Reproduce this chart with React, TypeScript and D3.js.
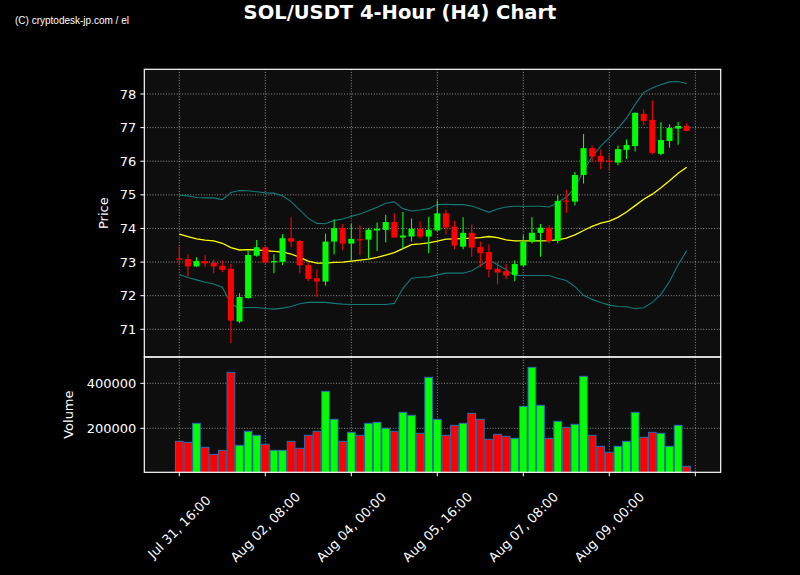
import React from "react";
import * as d3 from "d3";

const W = 800;
const H = 575;

// ---- data (4-hour candles, starting Jul 31 16:00) ----
const openP = [73.11, 73.09, 72.87, 73.03, 72.98, 72.89, 72.80, 71.23, 71.93, 73.19, 73.44, 72.99, 73.01, 73.71, 73.63, 72.91, 72.52, 72.42, 73.61, 74.01, 73.55, 73.68, 73.67, 73.94, 73.96, 74.19, 73.73, 73.76, 73.99, 73.76, 73.94, 74.45, 74.05, 73.46, 73.87, 73.45, 73.30, 72.80, 72.73, 72.62, 72.90, 73.61, 73.87, 74.02, 73.63, 74.83, 74.80, 75.59, 76.39, 76.16, 76.02, 75.96, 76.34, 76.45, 77.41, 77.23, 76.22, 76.60, 76.97, 77.05];
const highP = [73.46, 73.23, 73.14, 73.20, 73.08, 73.05, 72.94, 72.07, 73.34, 73.66, 73.51, 73.23, 73.83, 74.33, 73.66, 72.99, 72.79, 73.84, 74.27, 74.13, 74.13, 74.10, 74.01, 74.18, 74.41, 74.45, 74.49, 74.30, 74.21, 74.35, 74.83, 74.56, 74.23, 74.33, 74.12, 73.61, 73.53, 72.99, 72.94, 73.05, 73.80, 74.33, 74.13, 74.10, 74.99, 75.15, 75.69, 76.81, 76.47, 76.35, 76.19, 76.47, 76.65, 77.45, 77.54, 77.81, 77.16, 77.10, 77.17, 77.13];
const lowP = [72.92, 72.57, 72.85, 72.85, 72.67, 72.70, 70.59, 71.18, 71.91, 73.16, 72.95, 72.67, 72.91, 73.44, 72.67, 72.44, 71.97, 72.30, 73.23, 73.35, 73.04, 73.20, 73.11, 73.33, 73.59, 73.73, 73.40, 73.61, 73.71, 73.26, 73.91, 73.83, 73.38, 73.38, 73.16, 72.85, 72.55, 72.34, 72.49, 72.43, 72.87, 73.56, 73.16, 73.56, 73.56, 74.47, 74.68, 75.34, 75.97, 75.76, 75.72, 75.88, 76.07, 76.29, 77.07, 76.20, 76.18, 76.40, 76.49, 76.90];
const closeP = [73.08, 72.87, 73.03, 72.96, 72.87, 72.77, 71.26, 71.96, 73.21, 73.44, 72.99, 73.03, 73.71, 73.61, 72.90, 72.50, 72.42, 73.61, 74.01, 73.55, 73.69, 73.67, 73.96, 73.99, 74.19, 73.73, 73.79, 73.99, 73.76, 73.96, 74.45, 74.03, 73.49, 73.87, 73.43, 73.27, 72.78, 72.69, 72.60, 72.94, 73.61, 73.87, 74.02, 73.63, 74.82, 74.80, 75.59, 76.39, 76.14, 75.99, 75.98, 76.36, 76.48, 77.44, 77.20, 76.25, 76.63, 76.99, 77.05, 76.90];
const volume = [142200, 137800, 222200, 115600, 84400, 102200, 448900, 124400, 186700, 168900, 128900, 102200, 102200, 142200, 111100, 168900, 186700, 364400, 240000, 142200, 182200, 168900, 222200, 226700, 200000, 186700, 271100, 257800, 177800, 426700, 240000, 168900, 213300, 222200, 266700, 240000, 151100, 173300, 164400, 155600, 297800, 471100, 302200, 155600, 231100, 204400, 217800, 431100, 168900, 120000, 93300, 120000, 142200, 271100, 160000, 182200, 177800, 120000, 213300, 31100];
const ma20 = [73.83, 73.76, 73.69, 73.65, 73.63, 73.56, 73.43, 73.36, 73.37, 73.36, 73.34, 73.32, 73.30, 73.24, 73.14, 73.03, 72.97, 72.97, 72.99, 73.00, 73.03, 73.06, 73.09, 73.14, 73.21, 73.28, 73.40, 73.52, 73.54, 73.57, 73.62, 73.68, 73.69, 73.70, 73.71, 73.73, 73.76, 73.73, 73.66, 73.63, 73.63, 73.63, 73.63, 73.64, 73.66, 73.71, 73.81, 73.94, 74.06, 74.16, 74.22, 74.33, 74.49, 74.68, 74.87, 75.02, 75.21, 75.42, 75.64, 75.82];
const bbUpper = [74.99, 74.97, 74.92, 74.91, 74.91, 74.86, 75.07, 75.13, 75.12, 75.09, 75.06, 75.05, 74.97, 74.80, 74.55, 74.30, 74.15, 74.14, 74.24, 74.28, 74.36, 74.43, 74.53, 74.63, 74.75, 74.79, 74.59, 74.52, 74.55, 74.59, 74.71, 74.72, 74.71, 74.71, 74.67, 74.58, 74.48, 74.58, 74.64, 74.66, 74.66, 74.66, 74.66, 74.64, 74.78, 74.93, 75.21, 75.71, 76.14, 76.45, 76.70, 76.98, 77.28, 77.69, 78.05, 78.18, 78.28, 78.36, 78.37, 78.31];
const bbLower = [72.63, 72.54, 72.47, 72.40, 72.35, 72.25, 71.76, 71.63, 71.65, 71.65, 71.62, 71.60, 71.63, 71.68, 71.76, 71.80, 71.80, 71.80, 71.77, 71.75, 71.74, 71.74, 71.74, 71.74, 71.74, 71.77, 72.22, 72.52, 72.55, 72.56, 72.62, 72.67, 72.67, 72.67, 72.74, 72.90, 73.06, 72.92, 72.77, 72.60, 72.60, 72.60, 72.60, 72.60, 72.52, 72.45, 72.27, 72.01, 71.89, 71.80, 71.72, 71.68, 71.67, 71.61, 71.64, 71.80, 72.04, 72.42, 72.92, 73.34];

const xTickIndex = [0, 10, 20, 30, 40, 50, 60];
const xTickLabels = ["Jul 31, 16:00", "Aug 02, 08:00", "Aug 04, 00:00", "Aug 05, 16:00", "Aug 07, 08:00", "Aug 09, 00:00", ""];
const priceTicks = [71, 72, 73, 74, 75, 76, 77, 78];
const volumeTicks = [200000, 400000];

// ---- layout ----
const L = 144.3;
const R = 720.7;
const PT = 69.3;
const PB = 357;
const VB = 472.3;

const UP = "#00ff00";
const DOWN = "#ff0000";
const FONT = "DejaVu Sans, sans-serif";

export default function App() {
  const x = d3.scaleLinear().domain([-4.07, 62.95]).range([L, R]);
  const yP = d3.scaleLinear().domain([70.176, 78.735]).range([PB, PT]);
  const yV = d3.scaleLinear().domain([4500, 517000]).range([VB, PB]);
  const step = x(1) - x(0);
  const bodyW = step * 0.7;
  const barW = step * 0.9;

  const line = d3
    .line<number>()
    .x((_, i) => x(i))
    .y((d) => yP(d));

  const grid = { stroke: "#a0a0a0", strokeWidth: 0.9, strokeDasharray: "1,1.7" };

  return (
    <svg
      width={W}
      height={H}
      style={{ position: "absolute", left: 0, top: 0, background: "#000" }}
      fontFamily={FONT}
    >
      <rect x={0} y={0} width={W} height={H} fill="#000" />
      <defs>
        <clipPath id="clipP">
          <rect x={L} y={PT} width={R - L} height={PB - PT} />
        </clipPath>
        <clipPath id="clipV">
          <rect x={L} y={PB} width={R - L} height={VB - PB} />
        </clipPath>
      </defs>

      {/* titles */}
      <text x={15} y={24} fill="#fff" fontSize={10} fontFamily="Liberation Sans, Arial, sans-serif">
        (C) cryptodesk-jp.com / el
      </text>
      <text x={400} y={18.5} fill="#fff" fontSize={19.5} fontWeight="bold" textAnchor="middle">
        SOL/USDT 4-Hour (H4) Chart
      </text>

      {/* panel backgrounds */}
      <rect x={L} y={PT} width={R - L} height={PB - PT} fill="#0e0e0e" />
      <rect x={L} y={PB} width={R - L} height={VB - PB} fill="#0e0e0e" />

      {/* grids */}
      {xTickIndex.map((t) => (
        <g key={"vg" + t}>
          <line x1={x(t)} x2={x(t)} y1={PT} y2={PB} {...grid} />
          <line x1={x(t)} x2={x(t)} y1={PB} y2={VB} {...grid} />
        </g>
      ))}
      {priceTicks.map((t) => (
        <line key={"pg" + t} x1={L} x2={R} y1={yP(t)} y2={yP(t)} {...grid} />
      ))}
      {volumeTicks.map((t) => (
        <line key={"vgr" + t} x1={L} x2={R} y1={yV(t)} y2={yV(t)} {...grid} />
      ))}

      {/* price panel */}
      <g clipPath="url(#clipP)">
        <path d={line(bbUpper) || ""} fill="none" stroke="#147a7a" strokeWidth={1.1} />
        <path d={line(bbLower) || ""} fill="none" stroke="#147a7a" strokeWidth={1.1} />
        <path d={line(ma20) || ""} fill="none" stroke="#ffff00" strokeWidth={1.3} />
        {openP.map((o, i) => {
          const c = closeP[i];
          const col = c >= o ? UP : DOWN;
          const top = yP(Math.max(o, c));
          const bot = yP(Math.min(o, c));
          return (
            <g key={"c" + i}>
              <line x1={x(i)} x2={x(i)} y1={yP(highP[i])} y2={yP(lowP[i])} stroke={col} strokeWidth={1.1} />
              <rect x={x(i) - bodyW / 2} y={top} width={bodyW} height={Math.max(bot - top, 1.2)} fill={col} />
            </g>
          );
        })}
      </g>

      {/* volume panel */}
      <g clipPath="url(#clipV)">
        {volume.map((v, i) => (
          <rect
            key={"v" + i}
            x={x(i) - barW / 2}
            y={yV(v)}
            width={barW}
            height={VB - yV(v) + 2}
            fill={closeP[i] >= openP[i] ? UP : DOWN}
            stroke="#2a6db0"
            strokeWidth={1}
          />
        ))}
      </g>

      {/* spines */}
      <rect x={L} y={PT} width={R - L} height={PB - PT} fill="none" stroke="#fff" strokeWidth={1.2} />
      <rect x={L} y={PB} width={R - L} height={VB - PB} fill="none" stroke="#fff" strokeWidth={1.2} />

      {/* y ticks price */}
      {priceTicks.map((t) => (
        <g key={"pt" + t}>
          <line x1={L - 4} x2={L} y1={yP(t)} y2={yP(t)} stroke="#fff" strokeWidth={1} />
          <text x={L - 8} y={yP(t)} dy="0.35em" fill="#fff" fontSize={13} textAnchor="end">
            {t}
          </text>
        </g>
      ))}
      {volumeTicks.map((t) => (
        <g key={"vt" + t}>
          <line x1={L - 4} x2={L} y1={yV(t)} y2={yV(t)} stroke="#fff" strokeWidth={1} />
          <text x={L - 8} y={yV(t)} dy="0.35em" fill="#fff" fontSize={13} textAnchor="end">
            {t}
          </text>
        </g>
      ))}

      {/* x ticks */}
      {xTickIndex.map((t, k) => (
        <g key={"xt" + t}>
          <line x1={x(t)} x2={x(t)} y1={VB} y2={VB + 4} stroke="#fff" strokeWidth={1} />
          {xTickLabels[k] ? (
            <text
              transform={`translate(${x(t)},527) rotate(-45)`}
              fill="#fff"
              fontSize={13}
              textAnchor="middle"
              dy="0.35em"
            >
              {xTickLabels[k]}
            </text>
          ) : null}
        </g>
      ))}

      {/* axis labels */}
      <text transform={`translate(108,${(PT + PB) / 2}) rotate(-90)`} fill="#fff" fontSize={13} textAnchor="middle">
        Price
      </text>
      <text transform={`translate(73,${(PB + VB) / 2}) rotate(-90)`} fill="#fff" fontSize={13} textAnchor="middle">
        Volume
      </text>
    </svg>
  );
}
